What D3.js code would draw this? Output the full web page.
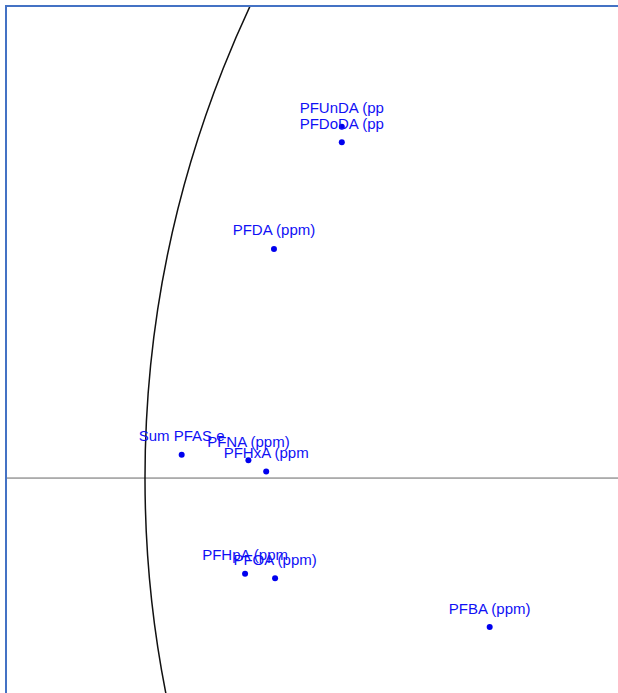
<!DOCTYPE html>
<html>
<head>
<meta charset="utf-8">
<script src="https://cdn.jsdelivr.net/npm/d3@7"></script>
<style>
  html, body { margin: 0; padding: 0; background: #fff; }
  svg { display: block; }
</style>
</head>
<body>
<svg></svg>
<script>
const width = 618;
const height = 693;

// variable names (labels are cut to 10 characters like the original)
const variables = ["PFUnDA (ppm)", "PFDoDA (ppm)", "PFDA (ppm)", "Sum PFAS excl", "PFNA (ppm)",
                   "PFHxA (ppm)", "PFHpA (ppm)", "PFOA (ppm)", "PFBA (ppm)"];
// loadings on the two components
const dim1 = [-0.823, -0.823, -0.884, -0.967, -0.907, -0.891, -0.910, -0.883, -0.690];
const dim2 = [0.316, 0.302, 0.206, 0.021, 0.016, 0.006, -0.086, -0.090, -0.134];

// visible window of the zoomed correlation circle
const xDomain = [-1.125, -0.5746];
const yDomain = [-0.1933, 0.4245];

const frameLeft = 6, frameTop = 6;

let svg = d3.select("svg")
            .attr("width", width)
            .attr("height", height);

let x = d3.scaleLinear().domain(xDomain).range([frameLeft, width]);
let y = d3.scaleLinear().domain(yDomain).range([height, frameTop]);

svg.append("clipPath")
   .attr("id", "plot")
   .append("rect")
     .attr("x", frameLeft)
     .attr("y", frameTop)
     .attr("width", width - frameLeft)
     .attr("height", height - frameTop);

let g = svg.append("g").attr("clip-path", "url(#plot)");

// horizontal axis line
g.append("line")
 .attr("x1", frameLeft)
 .attr("x2", width)
 .attr("y1", y(0))
 .attr("y2", y(0))
 .style("stroke", "#666")
 .style("stroke-width", 1);

// unit circle
g.append("circle")
 .attr("cx", x(0))
 .attr("cy", y(0))
 .attr("r", x(1) - x(0))
 .style("fill", "none")
 .style("stroke", "#111")
 .style("stroke-width", 1.5);

let data = variables.map((d, i) => ({ name: d, x: dim1[i], y: dim2[i] }));

g.selectAll(".dot")
 .data(data)
 .enter()
 .append("circle")
   .attr("class", "dot")
   .attr("cx", d => x(d.x))
   .attr("cy", d => y(d.y))
   .attr("r", 3)
   .style("fill", "#0000ee");

g.selectAll(".label")
 .data(data)
 .enter()
 .append("text")
   .attr("class", "label")
   .attr("x", d => x(d.x))
   .attr("y", d => y(d.y) - 13.5)
   .attr("text-anchor", "middle")
   .style("font-family", "'Liberation Sans', Arial, sans-serif")
   .style("font-size", "15px")
   .style("fill", "#1010f5")
   .text(d => d.name.slice(0, 10));

// frame (left and top edges are the only ones in view)
svg.append("path")
   .attr("d", `M${frameLeft},${height} V${frameTop} H${width}`)
   .style("fill", "none")
   .style("stroke", "#4472c4")
   .style("stroke-width", 2);
</script>
</body>
</html>
